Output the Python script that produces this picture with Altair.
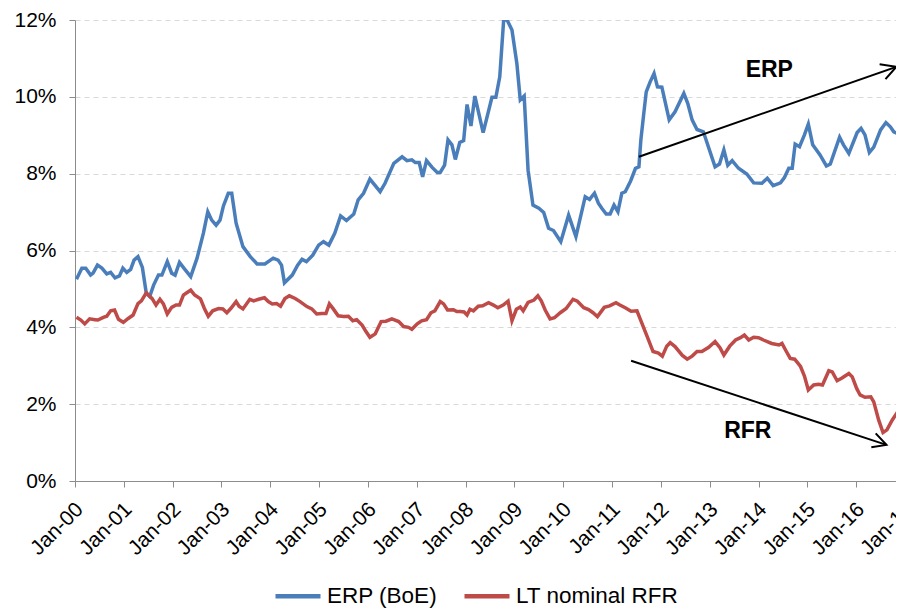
import altair as alt
import pandas as pd

# x values are years since Jan-2000 (fractional), y values are percent
ERP_T = [0.03, 0.14, 0.22, 0.32, 0.37, 0.46, 0.55, 0.65, 0.73, 0.82, 0.91, 0.98, 1.06, 1.14, 1.21, 1.29,
         1.38, 1.46, 1.53, 1.61, 1.71, 1.78, 1.89, 1.98, 2.05, 2.14, 2.23, 2.37, 2.50, 2.63, 2.72, 2.80,
         2.89, 2.97, 3.04, 3.14, 3.21, 3.30, 3.44, 3.59, 3.73, 3.89, 4.06, 4.16, 4.23, 4.29, 4.45, 4.56,
         4.65, 4.74, 4.87, 4.99, 5.09, 5.20, 5.32, 5.44, 5.56, 5.71, 5.80, 5.91, 6.04, 6.25, 6.35, 6.53,
         6.70, 6.80, 6.90, 6.97, 7.05, 7.12, 7.20, 7.31, 7.42, 7.48, 7.57, 7.64, 7.72, 7.79, 7.88, 7.96,
         8.03, 8.11, 8.19, 8.36, 8.54, 8.62, 8.70, 8.78, 8.85, 8.95, 9.05, 9.12, 9.20, 9.28, 9.38, 9.50,
         9.60, 9.70, 9.80, 9.95, 10.11, 10.26, 10.45, 10.54, 10.64, 10.72, 10.79, 10.88, 10.96, 11.04,
         11.12, 11.20, 11.27, 11.38, 11.48, 11.55, 11.59, 11.65, 11.70, 11.78, 11.86, 11.93, 12.02, 12.17,
         12.29, 12.47, 12.55, 12.64, 12.74, 12.87, 13.11, 13.20, 13.29, 13.37, 13.46, 13.59, 13.76, 13.90,
         14.07, 14.18, 14.30, 14.45, 14.53, 14.62, 14.69, 14.75, 14.84, 14.94, 15.02, 15.11, 15.26, 15.39,
         15.47, 15.66, 15.74, 15.85, 16.02, 16.10, 16.18, 16.27, 16.36, 16.50, 16.61, 16.70, 16.77, 16.87,
         16.97]
ERP_V = [5.25, 5.54, 5.54, 5.36, 5.41, 5.62, 5.54, 5.39, 5.43, 5.29, 5.34, 5.54, 5.43, 5.51, 5.75, 5.84,
         5.56, 4.89, 4.80, 5.10, 5.36, 5.36, 5.71, 5.41, 5.36, 5.69, 5.54, 5.32, 5.80, 6.45, 7.01, 6.79,
         6.66, 6.79, 7.16, 7.49, 7.49, 6.71, 6.10, 5.84, 5.65, 5.65, 5.80, 5.75, 5.62, 5.16, 5.36, 5.62,
         5.77, 5.71, 5.88, 6.14, 6.23, 6.14, 6.45, 6.90, 6.78, 6.95, 7.32, 7.49, 7.86, 7.53, 7.75, 8.27,
         8.44, 8.34, 8.36, 8.29, 8.29, 7.92, 8.34, 8.17, 8.03, 8.03, 8.22, 8.88, 8.75, 8.37, 8.81, 8.86,
         9.80, 9.24, 10.02, 9.07, 9.99, 9.99, 10.52, 12.0, 12.0, 11.74, 10.87, 9.92, 10.02, 8.09, 7.18, 7.10,
         6.99, 6.58, 6.52, 6.23, 6.92, 6.36, 7.40, 7.33, 7.49, 7.23, 7.10, 6.95, 6.95, 7.18,
         7.01, 7.49, 7.53, 7.81, 8.14, 8.18, 8.88, 9.57, 10.13, 10.39, 10.61, 10.26, 10.25, 9.40,
         9.61, 10.09, 9.83, 9.40, 9.15, 9.09, 8.18, 8.25, 8.62, 8.22, 8.34, 8.14, 7.99, 7.76,
         7.75, 7.88, 7.69, 7.76, 7.90, 8.14, 8.14, 8.77, 8.70, 9.01, 9.29, 8.75, 8.49, 8.20,
         8.25, 8.95, 8.75, 8.53, 9.07, 9.18, 9.01, 8.55, 8.69, 9.14, 9.33, 9.22, 9.09, 9.03,
         8.88]

RFR_T = [0.03, 0.12, 0.20, 0.30, 0.41, 0.47, 0.58, 0.65, 0.73, 0.81, 0.89, 0.99, 1.09, 1.19, 1.29, 1.36,
         1.46, 1.58, 1.66, 1.74, 1.81, 1.89, 1.98, 2.07, 2.14, 2.22, 2.29, 2.37, 2.45, 2.57, 2.65, 2.73,
         2.82, 2.94, 3.03, 3.11, 3.19, 3.30, 3.36, 3.44, 3.58, 3.66, 3.76, 3.88, 3.96, 4.04, 4.13, 4.21,
         4.30, 4.39, 4.51, 4.61, 4.75, 4.85, 4.95, 5.05, 5.14, 5.21, 5.29, 5.39, 5.50, 5.60, 5.69, 5.77,
         5.88, 5.96, 6.04, 6.15, 6.27, 6.37, 6.49, 6.63, 6.73, 6.83, 6.90, 7.01, 7.10, 7.20, 7.29, 7.37,
         7.48, 7.55, 7.63, 7.75, 7.82, 7.89, 7.97, 8.03, 8.09, 8.16, 8.26, 8.35, 8.47, 8.57, 8.66, 8.77,
         8.87, 8.95, 9.04, 9.12, 9.18, 9.28, 9.40, 9.48, 9.55, 9.63, 9.73, 9.82, 9.94, 10.06, 10.20, 10.29,
         10.42, 10.52, 10.61, 10.70, 10.84, 10.95, 11.08, 11.16, 11.27, 11.39, 11.51, 11.72, 11.84, 11.95,
         12.03, 12.12, 12.19, 12.29, 12.44, 12.54, 12.64, 12.74, 12.84, 12.98, 13.11, 13.21, 13.29, 13.41,
         13.53, 13.63, 13.71, 13.80, 13.90, 14.00, 14.10, 14.27, 14.42, 14.48, 14.57, 14.65, 14.74, 14.86,
         14.94, 15.02, 15.13, 15.23, 15.31, 15.44, 15.51, 15.61, 15.71, 15.85, 15.92, 16.01, 16.08, 16.18,
         16.30, 16.36, 16.46, 16.55, 16.63, 16.74, 16.85, 16.97]
RFR_V = [4.26, 4.19, 4.09, 4.22, 4.20, 4.19, 4.26, 4.29, 4.43, 4.45, 4.21, 4.13, 4.23, 4.32, 4.62, 4.69,
         4.90, 4.75, 4.58, 4.73, 4.61, 4.35, 4.52, 4.58, 4.58, 4.84, 4.90, 4.97, 4.84, 4.74, 4.49, 4.29,
         4.43, 4.49, 4.48, 4.38, 4.49, 4.67, 4.55, 4.48, 4.73, 4.69, 4.73, 4.77, 4.67, 4.61, 4.62, 4.55,
         4.75, 4.82, 4.75, 4.67, 4.54, 4.48, 4.35, 4.36, 4.36, 4.61, 4.48, 4.30, 4.28, 4.29, 4.17, 4.20,
         4.06, 3.89, 3.74, 3.83, 4.15, 4.16, 4.22, 4.15, 4.02, 4.00, 3.95, 4.09, 4.17, 4.20, 4.38, 4.43,
         4.67, 4.61, 4.45, 4.46, 4.41, 4.41, 4.40, 4.32, 4.47, 4.43, 4.55, 4.56, 4.64, 4.58, 4.51, 4.58,
         4.68, 4.17, 4.47, 4.53, 4.43, 4.65, 4.71, 4.82, 4.69, 4.45, 4.22, 4.25, 4.38, 4.49, 4.73, 4.68,
         4.51, 4.46, 4.38, 4.28, 4.52, 4.56, 4.64, 4.58, 4.51, 4.42, 4.43, 3.76, 3.37, 3.33,
         3.25, 3.51, 3.60, 3.50, 3.27, 3.17, 3.25, 3.37, 3.37, 3.48, 3.63, 3.47, 3.28, 3.51,
         3.67, 3.73, 3.80, 3.67, 3.74, 3.73, 3.67, 3.58, 3.54, 3.58, 3.37, 3.19, 3.17, 2.98,
         2.73, 2.37, 2.50, 2.52, 2.50, 2.87, 2.84, 2.61, 2.68, 2.80, 2.71, 2.41, 2.24, 2.18,
         2.19, 2.06, 1.59, 1.26, 1.33, 1.59, 1.80, 1.85]

SERIES = ["ERP (BoE)", "LT nominal RFR"]
COLORS = ["#4A7EBB", "#BE4B48"]

X_TICKS = [0, 1, 2, 3, 4, 5, 6, 7, 8, 9, 10, 11, 12, 13, 14, 15, 16, 17]
X_LABELS = ["Jan-00", "Jan-01", "Jan-02", "Jan-03", "Jan-04", "Jan-05", "Jan-06", "Jan-07", "Jan-08",
            "Jan-09", "Jan-10", "Jan-11", "Jan-12", "Jan-13", "Jan-14", "Jan-15", "Jan-16", "Jan-17"]
Y_TICKS = [0, 2, 4, 6, 8, 10, 12]

# annotation arrows (years since 2000, percent): shaft then open head
ARROW_SEG = ["erp_shaft", "erp_shaft", "erp_head", "erp_head", "erp_head",
             "rfr_shaft", "rfr_shaft", "rfr_head", "rfr_head", "rfr_head"]
ARROW_T = [11.55, 16.82, 16.48, 16.82, 16.60,
           11.39, 16.62, 16.40, 16.62, 16.31]
ARROW_V = [8.44, 10.78, 10.85, 10.78, 10.46,
           3.13, 0.94, 1.24, 0.94, 0.88]

NOTE_TEXT = ["ERP", "RFR"]
NOTE_T = [14.22, 13.78]
NOTE_V = [10.70, 1.31]

FONT = "Liberation Sans"

lines_df = pd.DataFrame({
    "t": ERP_T + RFR_T,
    "v": ERP_V + RFR_V,
    "series": [SERIES[0]] * len(ERP_T) + [SERIES[1]] * len(RFR_T),
})
arrow_df = pd.DataFrame({"t": ARROW_T, "v": ARROW_V, "seg": ARROW_SEG,
                         "ord": list(range(len(ARROW_T)))})
note_df = pd.DataFrame({"t": NOTE_T, "v": NOTE_V, "label": NOTE_TEXT})

x_label_expr = "[" + ",".join("'%s'" % s for s in X_LABELS) + "][datum.value]"

x_enc = alt.X("t:Q", scale=alt.Scale(domain=[0, 17], nice=False, zero=False),
              axis=alt.Axis(values=X_TICKS, labelExpr=x_label_expr, title=None, grid=False,
                            labelAngle=-45, labelAlign="right", labelBaseline="middle",
                            labelPadding=19, labelOffset=4.5, labelOverlap=False,
                            labelFlush=False))
y_enc = alt.Y("v:Q", scale=alt.Scale(domain=[0, 12], nice=False),
              axis=alt.Axis(values=Y_TICKS, labelExpr="datum.value + '%'", title=None,
                            grid=True, gridDash=[5, 4], gridColor="#d9d9d9", gridWidth=1,
                            labelPadding=13, labelOverlap=False, labelFlush=False))

lines = alt.Chart(lines_df).mark_line(strokeWidth=3.5, clip=True).encode(
    x=x_enc,
    y=y_enc,
    color=alt.Color("series:N", scale=alt.Scale(domain=SERIES, range=COLORS),
                    legend=alt.Legend(title=None, orient="none", legendX=198, legendY=551,
                                      direction="horizontal", symbolType="stroke",
                                      symbolStrokeWidth=4.5, symbolSize=2025,
                                      labelFontSize=22.5, labelFont=FONT, labelColor="black",
                                      labelLimit=400, columnPadding=17, labelOffset=4,
                                      padding=0)),
)

arrows = alt.Chart(arrow_df).mark_line(color="black", strokeWidth=2).encode(
    x="t:Q", y="v:Q", detail="seg:N", order="ord:Q")

notes = alt.Chart(note_df).mark_text(font=FONT, fontSize=23, fontWeight="bold", color="black",
                                     align="center", baseline="middle").encode(
    x="t:Q", y="v:Q", text="label:N")

chart = alt.layer(lines, arrows, notes).properties(
    width=830, height=461,
    autosize=alt.AutoSizeParams(type="none"),
    padding={"left": 67, "top": 12, "right": -9, "bottom": 128},
).configure_axis(
    domainColor="#8c8c8c", tickColor="#8c8c8c", domainWidth=1, tickWidth=1, tickSize=6,
    labelFont=FONT, labelFontSize=21, labelColor="black",
).configure_view(stroke=None)

chart.save("out.html", embed_options={"renderer": "svg", "actions": False})
